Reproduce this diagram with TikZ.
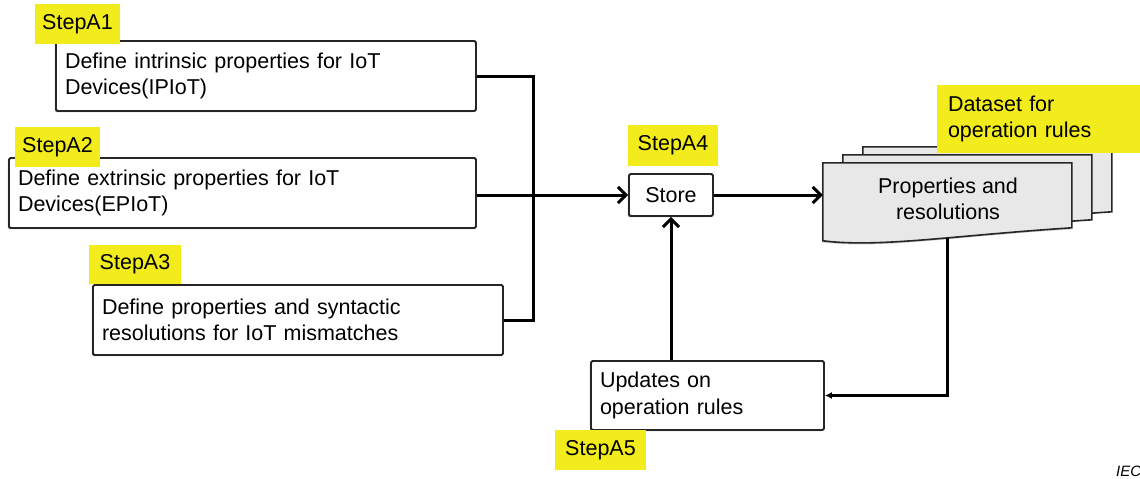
\documentclass[tikz,border=0pt]{standalone}
\usepackage{fontspec}
\setmainfont{Liberation Sans}
\usetikzlibrary{arrows.meta,shadows}
\definecolor{hilite}{RGB}{242,236,28}
\definecolor{docgray}{RGB}{232,232,232}
\tikzset{
  txt/.style={font=\fontsize{21.5}{26.5}\selectfont},
  tag/.style={txt, fill=hilite, inner sep=0pt},
  stepbox/.style={txt, draw=black!85, line width=1.8pt, rounded corners=1.5pt,
    fill=white, inner xsep=9pt, inner ysep=0pt, align=left, minimum height=70pt,
    drop shadow={shadow xshift=-1.2pt, shadow yshift=-1.2pt, opacity=.55, fill=black!70}},
  conn/.style={line width=3pt, -{Straight Barb[length=8pt,width=16pt]}},
  bus/.style={line width=3pt},
  feed/.style={line width=2.2pt, -{Latex[length=7pt,width=7pt]}},
  sheet/.style={draw=black!85, line width=1.6pt, fill=docgray},
}
% one page of the data set, top left corner at the origin
\newcommand\docsheet{(0,0) -- (249,0) -- (249,65) .. controls (127,73) and (57,85) .. (0,78) -- cycle}
\begin{document}
\begin{tikzpicture}[x=1pt,y=-1pt]
\useasboundingbox (0,0) rectangle (1140,479);

% input steps
\node[stepbox, text width=402pt, minimum width=420pt] (b1) at (266,76)
  {Define intrinsic properties for IoT\\Devices(IPIoT)};
\node[stepbox, text width=449pt, minimum width=467pt] (b2) at (242.5,193)
  {Define extrinsic properties for IoT\\Devices(EPIoT)};
\node[stepbox, text width=392pt, minimum width=410pt] (b3) at (298,320)
  {Define properties and syntactic\\resolutions for IoT mismatches};

% store and updates
\node[stepbox, align=center, minimum width=84pt, minimum height=42pt, inner xsep=0pt] (store) at (671,195) {Store};
\node[stepbox, text width=215pt, minimum width=233pt, minimum height=69pt] (upd) at (707.5,395.5)
  {Updates on\\operation rules};

% data set: a stack of three pages
\node[minimum width=249pt, minimum height=79pt, inner sep=0pt] (doc) at (947.5,202.5) {};
\begin{scope}[shift={([xshift=40pt,yshift=16pt]doc.north west)}]
  \draw[sheet] \docsheet;
\end{scope}
\begin{scope}[shift={([xshift=20pt,yshift=8pt]doc.north west)}]
  \draw[sheet] \docsheet;
\end{scope}
\begin{scope}[shift={(doc.north west)}]
  \draw[sheet, drop shadow={shadow xshift=-1pt, shadow yshift=-1.5pt, opacity=.35, fill=black!60}] \docsheet;
\end{scope}
\node[txt, align=center] (doctext) at (948,199) {Properties and\\resolutions};

% connectors
\coordinate (busx) at (533,0);
\draw[bus, line join=miter] (b1.east) -- (b1.east -| busx) -- (b3.east -| busx) -- (b3.east);
\draw[conn] (b2.east |- store.west) -- (store.west);
\draw[conn] (store.east) -- (store.east -| doc.west);
\coordinate (docout) at ([yshift=4pt]doc.south);
\draw[feed] (docout) |- (upd.east);
\draw[conn] (store.south |- upd.north) -- (store.south);

% step tags
\node[tag, minimum width=85pt, minimum height=40pt] (t1) at (77.5,24) {StepA1};
\node[tag, minimum width=85pt, minimum height=40pt] (t2) at (57.5,147) {StepA2};
\node[tag, minimum width=92pt, minimum height=39pt] (t3) at (135,264.5) {StepA3};
\node[tag, minimum width=90pt, minimum height=41pt] (t4) at (673,145.5) {StepA4};
\node[tag, minimum width=91pt, minimum height=40pt] (t5) at (600.5,450) {StepA5};
\node[tag, minimum width=203pt, minimum height=68pt, inner xsep=11pt, text width=181pt, align=left] (t6) at (1038.5,119)
  {Dataset for\\operation rules};

\node[font=\fontsize{15}{17}\selectfont\itshape, anchor=west, inner sep=0pt] (iec) at (1116,471) {IEC};
\end{tikzpicture}
\end{document}
